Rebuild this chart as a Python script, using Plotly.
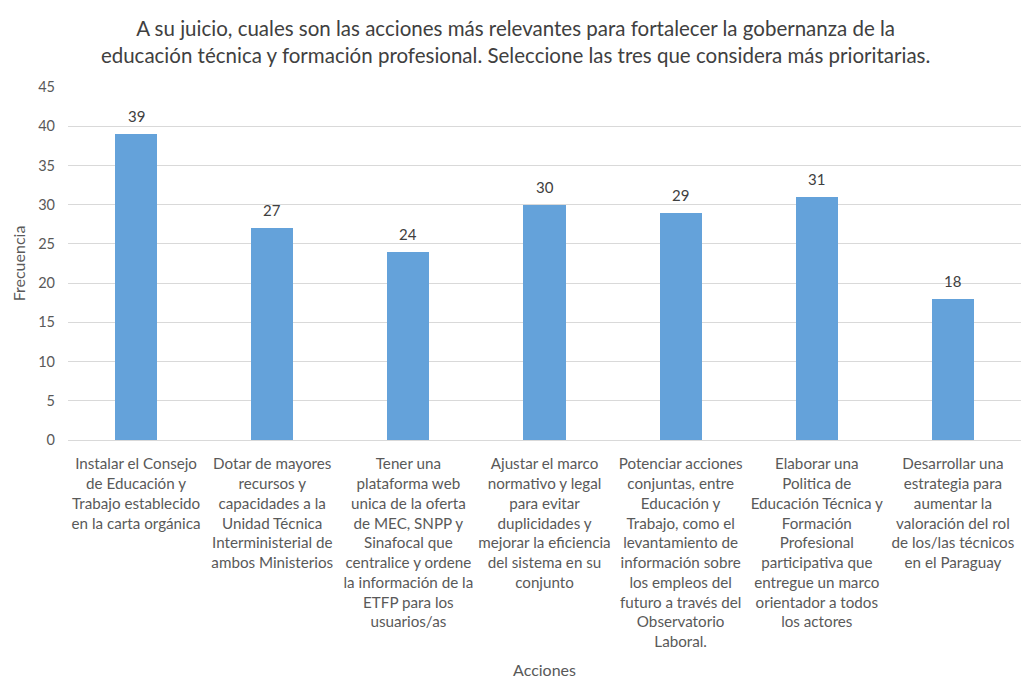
import plotly.graph_objects as go

# Acciones propuestas y frecuencia de selección
categorias = [
    "Instalar el Consejo<br>de Educación y<br>Trabajo establecido<br>en la carta orgánica",
    "Dotar de mayores<br>recursos y<br>capacidades a la<br>Unidad Técnica<br>Interministerial de<br>ambos Ministerios",
    "Tener una<br>plataforma web<br>unica de la oferta<br>de MEC, SNPP y<br>Sinafocal que<br>centralice y ordene<br>la información de la<br>ETFP para los<br>usuarios/as",
    "Ajustar el marco<br>normativo y legal<br>para evitar<br>duplicidades y<br>mejorar la eficiencia<br>del sistema en su<br>conjunto",
    "Potenciar acciones<br>conjuntas, entre<br>Educación y<br>Trabajo, como el<br>levantamiento de<br>información sobre<br>los empleos del<br>futuro a través del<br>Observatorio<br>Laboral.",
    "Elaborar una<br>Politica de<br>Educación Técnica y<br>Formación<br>Profesional<br>participativa que<br>entregue un marco<br>orientador a todos<br>los actores",
    "Desarrollar una<br>estrategia para<br>aumentar la<br>valoración del rol<br>de los/las técnicos<br>en el Paraguay",
]
frecuencia = [39, 27, 24, 30, 29, 31, 18]
y_ticks = [0, 5, 10, 15, 20, 25, 30, 35, 40, 45]

titulo = ("A su juicio, cuales son las acciones más relevantes para fortalecer la gobernanza de la<br>"
          "educación técnica y formación profesional. Seleccione las tres que considera más prioritarias.")

FONT = "Lato, 'Open Sans', sans-serif"
GRIS = "#595959"
posiciones = list(range(len(categorias)))

fig = go.Figure(
    go.Bar(
        x=posiciones,
        y=frecuencia,
        marker=dict(color="#64A2DA", line=dict(width=0)),
        width=0.31,
        hoverinfo="x+y",
    )
)

# Etiquetas de valor encima de cada barra
for xi, v in zip(posiciones, frecuencia):
    fig.add_annotation(
        x=xi, y=v, text=str(v), showarrow=False,
        yanchor="bottom", yshift=7,
        font=dict(size=15, color="#404040", family=FONT),
    )

fig.update_layout(
    width=1021,
    height=679,
    margin=dict(l=68, r=0, t=87, b=239),
    paper_bgcolor="white",
    plot_bgcolor="white",
    font=dict(family=FONT, color=GRIS, size=14),
    showlegend=False,
    title=dict(
        text=titulo,
        x=0.505,
        xanchor="center",
        y=1 - 36 / 679,
        yanchor="middle",
        font=dict(size=20.5, color="#404040", family=FONT),
    ),
    xaxis=dict(
        tickmode="array",
        tickvals=posiciones,
        ticktext=categorias,
        range=[-0.5, 6.5],
        showgrid=False,
        showline=True,
        linecolor="#D9D9D9",
        ticks="",
        ticklabelstandoff=10,
        tickfont=dict(size=15.2, color=GRIS),
        title=dict(text="Acciones", font=dict(size=16, color=GRIS), standoff=36),
        automargin=False,
    ),
    yaxis=dict(
        range=[0, 45],
        tickvals=y_ticks,
        showgrid=True,
        gridcolor="#D9D9D9",
        zeroline=False,
        ticks="",
        ticklabelstandoff=12,
        tickfont=dict(size=14.5, color=GRIS),
        title=dict(text="Frecuencia", font=dict(size=16, color=GRIS), standoff=8),
        automargin=False,
    ),
    bargap=0,
)

fig.write_html("out.html")
